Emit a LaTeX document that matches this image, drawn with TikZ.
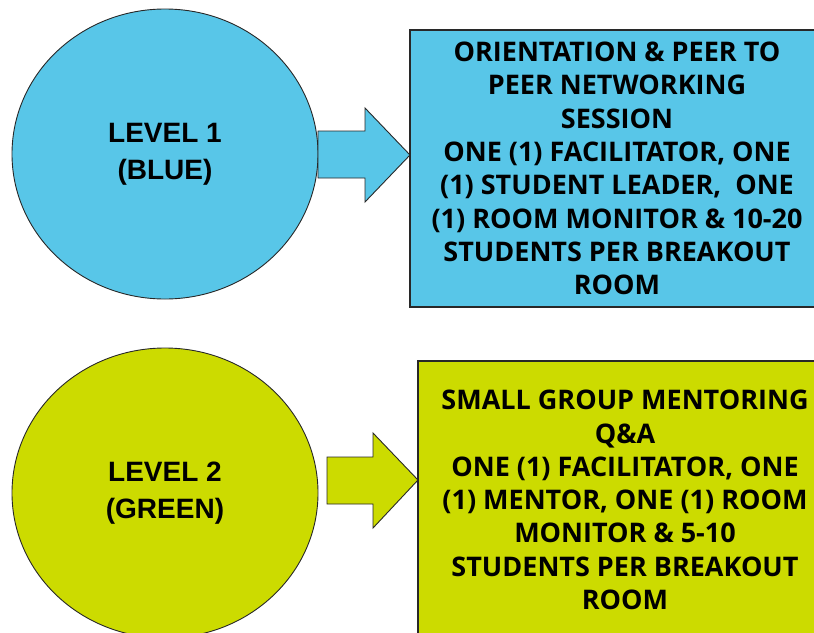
\documentclass[tikz,border=0pt]{standalone}
\usepackage{fontspec}
\newfontfamily\osans{Open Sans}
\newfontfamily\lsans{Liberation Sans}
\usetikzlibrary{shapes.geometric}
\definecolor{lvlblue}{RGB}{88,198,232}
\definecolor{lvlgreen}{RGB}{204,219,0}
\definecolor{edge}{RGB}{40,40,40}
\tikzset{
  level/.style={ellipse, draw=edge, line width=0.9pt, minimum width=306pt, minimum height=290pt, inner sep=0pt,
    font=\lsans\bfseries\fontsize{28}{37}\selectfont, align=center, text=black},
  infobox/.style={rectangle, draw=edge, line width=1.1pt, inner sep=0pt, align=center,
    font=\osans\bfseries\fontsize{27}{33.3}\selectfont, text=black},
  fatarrow/.style={draw=edge, line width=0.9pt, line join=miter}
}
\begin{document}
\begin{tikzpicture}[x=1pt,y=-1pt]
\useasboundingbox (0,0) rectangle (814,632);
\clip (0,0) rectangle (814,632);
\fill[white] (0,0) rectangle (814,632);
% level 1
\node[level, fill=lvlblue] (l1) at (165,154) {\raisebox{-3pt}{\begin{tabular}{@{}c@{}}LEVEL 1\\[-0pt](BLUE)\end{tabular}}};
\node[infobox, fill=lvlblue, minimum width=414pt, minimum height=277pt] (b1) at (617,168.5)
  {ORIENTATION \& PEER TO\\PEER NETWORKING\\SESSION\\ONE (1) FACILITATOR, ONE\\(1) STUDENT LEADER,\ \ ONE\\(1) ROOM MONITOR \& 10-20\\STUDENTS PER BREAKOUT\\ROOM};
\coordinate (t1) at (410,155);
\draw[fatarrow, fill=lvlblue] (318,131) -- (365,131) -- (365,108) -- (t1) -- (365,202) -- (365,178) -- (318,178) -- cycle;
% level 2
\node[level, fill=lvlgreen] (l2) at (165,493) {LEVEL 2\\(GREEN)};
\node[infobox, fill=lvlgreen, minimum width=414pt, minimum height=278pt] (b2) at (625,500)
  {SMALL GROUP MENTORING\\Q\&A\\ONE (1) FACILITATOR, ONE\\(1) MENTOR, ONE (1) ROOM\\MONITOR \& 5-10\\STUDENTS PER BREAKOUT\\ROOM};
\coordinate (t2) at (418,480);
\draw[fatarrow, fill=lvlgreen] (327,457) -- (373,457) -- (373,433) -- (t2) -- (373,528) -- (373,504) -- (327,504) -- cycle;
\end{tikzpicture}
\end{document}
